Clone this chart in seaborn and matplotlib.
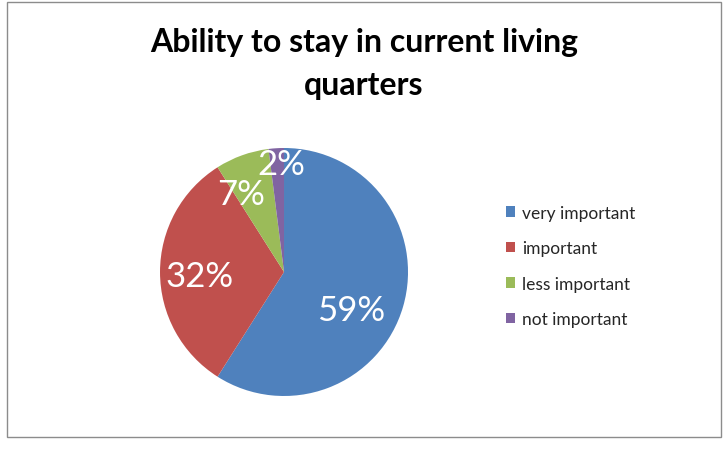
import numpy as np
import matplotlib
matplotlib.use("Agg")
import matplotlib.pyplot as plt
import matplotlib.patches as mpatches
import seaborn as sns

# --- data ---
categories = ["very important", "important", "less important", "not important"]
shares = [59, 32, 7, 2]
colors = ["#4F81BD", "#C0504D", "#9BBB59", "#8064A2"]
title = "Ability to stay in current living\nquarters"

sns.set_theme(style="white")
plt.rcParams['font.family'] = ['Lato', 'DejaVu Sans']

fig = plt.figure(figsize=(7.27, 4.56), dpi=100)

# chart border
fig.patches.append(mpatches.Rectangle((0.0096, 0.0395), 0.982, 0.954,
                                      transform=fig.transFigure, fill=False,
                                      edgecolor="#8c8c8c", linewidth=1.0))

ax = fig.add_axes([0.2201, 0.1294, 248 / 727, 248 / 456])
wedges, _ = ax.pie(shares, colors=colors, startangle=90, counterclock=False,
                   radius=1.0, wedgeprops=dict(linewidth=0))
ax.set_xlim(-1, 1)
ax.set_ylim(-1, 1)
ax.set_aspect("equal")
ax.axis("off")

# percentage labels, placed near each wedge's mid angle
label_radius = [0.62, 0.68, 0.72, 0.87]
angle_shift = [-13, 3, 9, -2]
for w, val, r, da in zip(wedges, shares, label_radius, angle_shift):
    ang = np.deg2rad((w.theta1 + w.theta2) / 2 + da)
    ax.text(r * np.cos(ang), r * np.sin(ang), f"{val}%", color="white",
            fontsize=25, ha="center", va="center")

fig.text(364 / 727, 1 - 64 / 456, title, ha="center", va="center",
         fontsize=23, fontweight="bold", linespacing=1.55, color="black")

fig.legend(wedges, categories, loc="center left",
           bbox_to_anchor=(490 / 727, 1 - 267 / 456), frameon=False,
           fontsize=12.5, labelspacing=1.12, handlelength=0.55, handleheight=0.55,
           handletextpad=0.4)

fig.savefig("out.png", dpi=100)
